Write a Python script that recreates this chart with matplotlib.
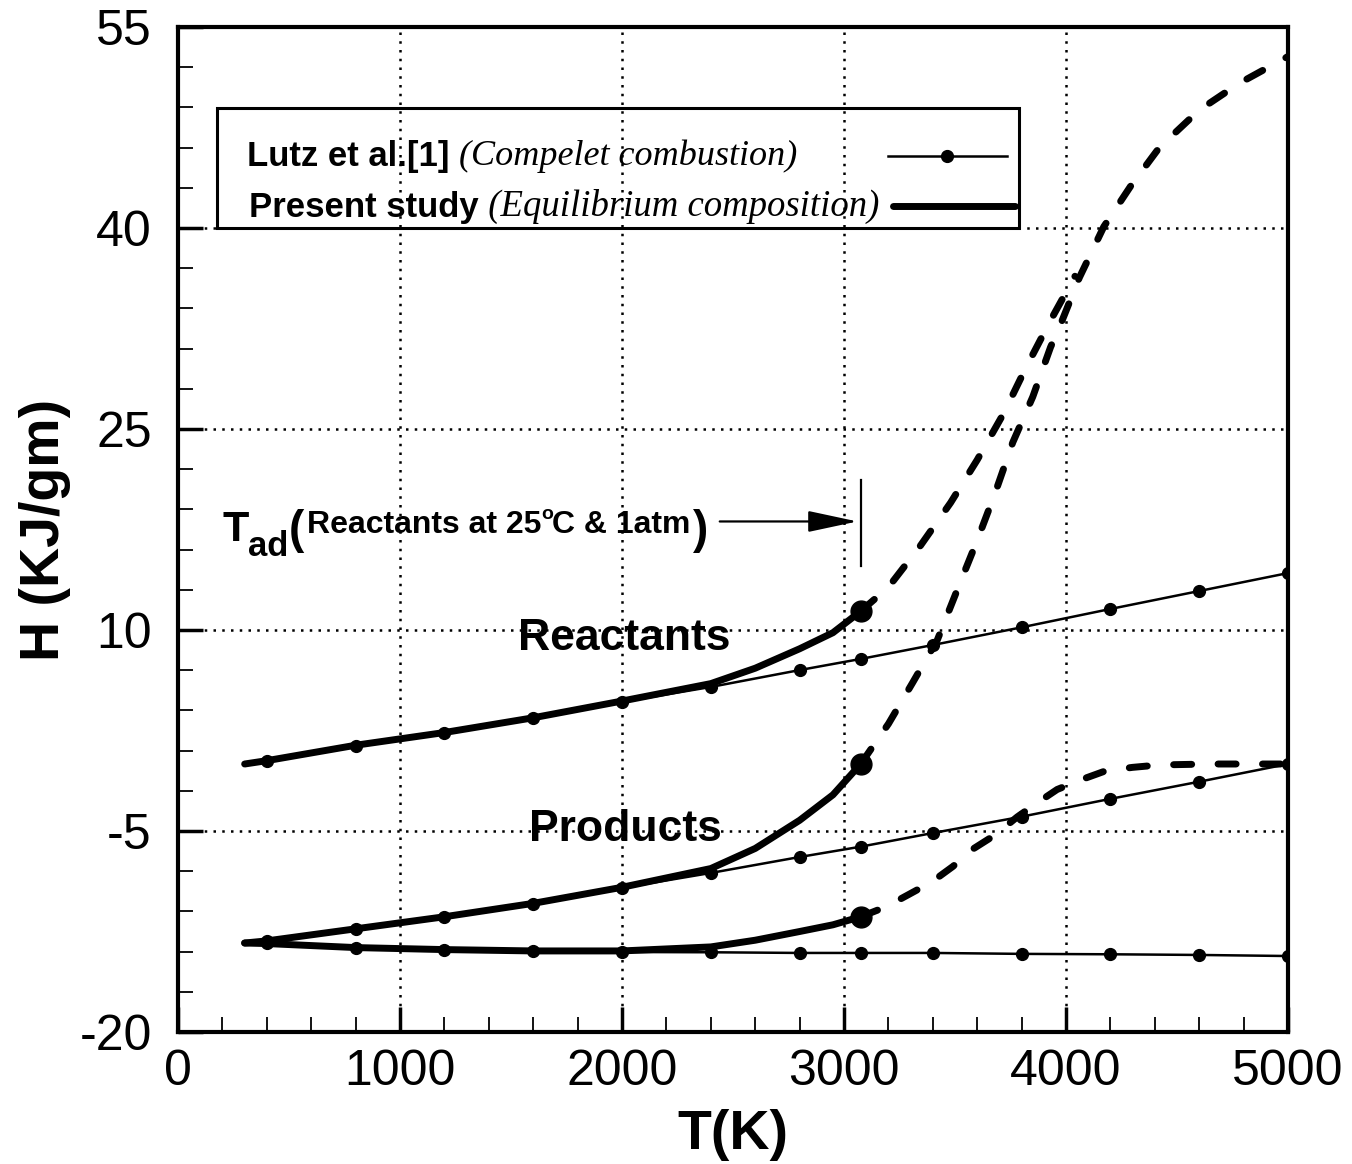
import numpy as np
import matplotlib.pyplot as plt
from matplotlib.ticker import FixedLocator
from matplotlib.patches import Rectangle

plt.rcParams['font.family'] = ['Liberation Sans', 'DejaVu Sans']
plt.rcParams['axes.unicode_minus'] = False

T_ad = 3075

# Lutz et al.[1] (complete combustion)
T_lutz = [400, 800, 1200, 1600, 2000, 2400, 2800, 3075, 3400, 3800, 4200, 4600, 5000]
H_lutz_react = [0.22, 1.34, 2.31, 3.43, 4.63, 5.75, 7.01, 7.84, 8.88, 10.2, 11.57, 12.91, 14.25]
H_lutz_prod_a = [-13.21, -12.31, -11.42, -10.45, -9.25, -8.13, -6.94, -6.17, -5.15, -3.93, -2.6, -1.32, 0.0]
H_lutz_prod_b = [-13.36, -13.73, -13.88, -13.96, -14.03, -14.05, -14.1, -14.1, -14.1, -14.17, -14.2, -14.25, -14.33]

# present study (equilibrium composition), up to T_ad
T_eq = [300, 400, 800, 1200, 1600, 2000, 2400, 2600, 2800, 2950, 3075]
H_eq_react = [0.0, 0.25, 1.4, 2.35, 3.45, 4.7, 6.0, 7.15, 8.6, 9.8, 11.4]
H_eq_prod_a = [-13.36, -13.2, -12.3, -11.4, -10.4, -9.2, -7.8, -6.3, -4.2, -2.3, 0.0]
H_eq_prod_b = [-13.36, -13.4, -13.7, -13.85, -13.95, -13.95, -13.65, -13.15, -12.5, -12.0, -11.4]

# present study beyond T_ad (dashed)
T_react_d = [3075, 3200, 3340, 3480, 3600, 3720, 3820, 3930, 4040]
H_react_d = [11.4, 13.2, 16.2, 19.5, 22.7, 26.2, 29.6, 33.1, 36.4]
T_prod_a_d = [3075, 3200, 3310, 3420, 3510, 3600, 3680, 3760, 3850, 3930, 3980,
              4060, 4170, 4290, 4420, 4600, 4780, 5000]
H_prod_a_d = [0.0, 3.0, 6.1, 9.25, 13.0, 16.7, 20.2, 24.0, 27.4, 31.1, 33.0,
              36.3, 40.1, 43.1, 46.0, 48.8, 50.8, 52.8]
T_prod_b_d = [3075, 3190, 3290, 3395, 3490, 3580, 3680, 3780, 3870, 3960, 4080,
              4180, 4300, 4420, 4650, 5000]
H_prod_b_d = [-11.4, -10.65, -9.75, -8.8, -7.65, -6.35, -5.3, -3.95, -2.9, -1.9, -1.1,
              -0.5, -0.25, -0.07, 0.0, 0.0]

x_ticks = [0, 1000, 2000, 3000, 4000, 5000]
y_ticks = [-20, -5, 10, 25, 40, 55]

fig = plt.figure(figsize=(13.52, 11.64), dpi=100)
ax = fig.add_axes([0.1317, 0.1134, 0.8210, 0.8634])

thin = dict(color='k', lw=1.8, marker='o', ms=8.5)
for H in [H_lutz_react, H_lutz_prod_a, H_lutz_prod_b]:
    ax.plot(T_lutz, H, **thin)

for H in [H_eq_react, H_eq_prod_a, H_eq_prod_b]:
    ax.plot(T_eq, H, color='k', lw=5, solid_capstyle='round')
    ax.plot(T_eq[-1], H[-1], 'o', color='k', ms=15)

dash = dict(color='k', lw=5, ls=(0, (2.6, 3.8)), dash_capstyle='round')
ax.plot(T_react_d, H_react_d, **dash)
ax.plot(T_prod_a_d, H_prod_a_d, **dash)
ax.plot(T_prod_b_d, H_prod_b_d, **dash)

ax.set_xlim(0, 5000)
ax.set_ylim(-20, 55)
ax.set_xticks(x_ticks)
ax.set_yticks(y_ticks)
ax.xaxis.set_minor_locator(FixedLocator(np.arange(0, 5001, 200)))
ax.yaxis.set_minor_locator(FixedLocator(np.arange(-20, 56, 3)))
ax.tick_params(which='both', direction='in', top=False, right=False)
ax.tick_params(which='major', length=18, width=2.5, labelsize=36)
ax.tick_params(which='minor', length=11, width=1.3)
ax.tick_params(axis='x', which='major', pad=12)
ax.tick_params(axis='y', which='major', pad=19)
for s in ax.spines.values():
    s.set_linewidth(3)
ax.grid(True, which='major', ls=(0, (1, 2.5)), lw=1.8, color='k')
ax.set_axisbelow(True)

ax.set_xlabel('T(K)', fontsize=40, fontweight='bold', labelpad=10)
ax.set_ylabel('H (KJ/gm)', fontsize=40, fontweight='bold', labelpad=6)

# curve labels
ax.text(2011, 8.5, 'Reactants', fontsize=32, fontweight='bold', ha='center', va='baseline')
ax.text(2014, -5.75, 'Products', fontsize=32, fontweight='bold', ha='center', va='baseline')

# adiabatic flame temperature annotation
t1 = ax.text(198, 16.64, 'T', fontsize=31, fontweight='bold', va='baseline')
t2 = ax.annotate('ad', xy=(1, 0), xycoords=t1, xytext=(0, -9), textcoords='offset points',
                 fontsize=25, fontweight='bold', va='bottom')
t3 = ax.annotate('(', xy=(1, 0), xycoords=t2, xytext=(0, 7), textcoords='offset points',
                 fontsize=33, fontweight='bold', va='bottom')
t4 = ax.annotate('Reactants at 25', xy=(1, 0), xycoords=t3, xytext=(2, 9), textcoords='offset points',
                 fontsize=23, fontweight='bold', va='bottom')
t5 = ax.annotate('o', xy=(1, 1), xycoords=t4, xytext=(0, -9), textcoords='offset points',
                 fontsize=14, fontweight='bold', va='bottom')
t6 = ax.annotate('C & 1atm', xy=(1, 0), xycoords=t4, xytext=(8, 0), textcoords='offset points',
                 fontsize=23, fontweight='bold', va='bottom')
t7 = ax.annotate(')', xy=(1, 0), xycoords=t6, xytext=(2, -9), textcoords='offset points',
                 fontsize=33, fontweight='bold', va='bottom')
ax.annotate('', xy=(T_ad - 15, 18.1), xytext=(2440, 18.1),
            arrowprops=dict(arrowstyle='-|>,head_length=1.4,head_width=0.3', lw=1.6,
                            color='k', mutation_scale=22, shrinkA=0, shrinkB=0))
ax.plot([T_ad, T_ad], [14.8, 21.2], color='k', lw=1.6)

# legend box
ax.add_patch(Rectangle((0.0351, 0.80), 0.7226, 0.1194, transform=ax.transAxes,
                       fill=False, ec='k', lw=2.2, zorder=5))
l1 = ax.text(0.0622, 0.8617, 'Lutz et al.[1]', transform=ax.transAxes,
             fontsize=25, fontweight='bold', va='baseline')
ax.annotate(' (Compelet combustion)', xy=(1, 0), xycoords=l1, va='bottom',
            family='Liberation Serif', style='italic', fontsize=26)
l2 = ax.text(0.064, 0.8109, 'Present study', transform=ax.transAxes,
             fontsize=25, fontweight='bold', va='baseline')
ax.annotate(' (Equilibrium composition)', xy=(1, 0), xycoords=l2, va='bottom',
            family='Liberation Serif', style='italic', fontsize=26.5)
ax.plot([0.6396, 0.7468], [0.8716, 0.8716], transform=ax.transAxes, color='k', lw=1.8)
ax.plot([0.6928], [0.8716], transform=ax.transAxes, marker='o', color='k', ms=8.5)
ax.plot([0.6441, 0.7541], [0.8219, 0.8219], transform=ax.transAxes, color='k', lw=5,
        solid_capstyle='round')

fig.savefig('out.png', dpi=100)
